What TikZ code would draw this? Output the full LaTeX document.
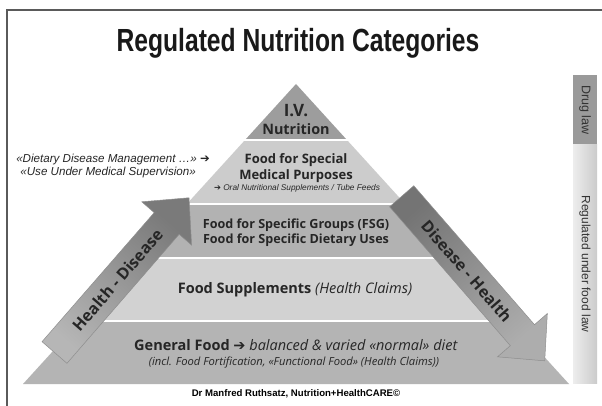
\documentclass[tikz,border=0pt]{standalone}
\usepackage{fontspec}
\setmainfont{Liberation Sans}
\newfontfamily\titlefont{Liberation Sans}[FakeStretch=0.77]
\newfontfamily\osans{Open Sans}
\newfontfamily\djv{DejaVu Sans}
\newcommand{\myfs}[2]{\fontsize{#1}{#2}\selectfont}
\definecolor{framec}{HTML}{5A5A5A}
\definecolor{ivc}{HTML}{9D9D9D}
\definecolor{fsmpc}{HTML}{CCCCCC}
\definecolor{fsgc}{HTML}{B2B2B2}
\definecolor{supc}{HTML}{D2D2D2}
\definecolor{genc}{HTML}{B4B4B4}
\definecolor{hdlight}{HTML}{B6B6B6}
\definecolor{hddark}{HTML}{7A7A7A}
\definecolor{dhdark}{HTML}{747474}
\definecolor{dhlight}{HTML}{ADADAD}
\definecolor{arrline}{HTML}{8E8E8E}
\definecolor{druglaw}{HTML}{9A9A9A}
\definecolor{foodla}{HTML}{EDEDED}
\definecolor{foodlb}{HTML}{CBCBCB}
\definecolor{textc}{HTML}{262626}
\begin{document}
\begin{tikzpicture}[x=1pt,y=-1pt,
  txt/.style={inner sep=0pt, text=textc},
  ptxt/.style={txt, anchor=base, font=\osans},
  arrtext/.style={inner sep=0pt, text=textc, font=\osans\bfseries\myfs{16}{16}},
  arrshape/.style={draw=arrline, line width=0.5pt}]
\useasboundingbox (0,0) rectangle (602,406);
\fill[white] (0,0) rectangle (602,406);
\draw[framec, line width=2pt] (6.5,407) -- (6.5,10) -- (603,10);

% title
\node[txt, anchor=base, text=black!90] (title) at (298,52) {\titlefont\bfseries\myfs{32}{32}Regulated Nutrition Categories};

% pyramid
\coordinate (apex) at (296,84);
\coordinate (bl) at (23,384);
\coordinate (br) at (569,384);
\begin{scope}
  \clip (apex) -- (bl) -- (br) -- cycle;
  \fill[ivc] (0,80) rectangle (602,139);
  \fill[fsmpc] (0,141) rectangle (602,203);
  \fill[fsgc] (0,205) rectangle (602,256.5);
  \fill[supc] (0,258.5) rectangle (602,320);
  \fill[genc] (0,322) rectangle (602,390);
\end{scope}

% pyramid texts
\node[ptxt] (iv) at (296,117) {\bfseries\myfs{17}{17}I.V.};
\node[ptxt] (ivn) at (296,135) {\bfseries\myfs{14.4}{14}Nutrition};
\node[ptxt] (fsmp1) at (296,164) {\bfseries\myfs{13}{13}Food for Special};
\node[ptxt] (fsmp2) at (296,180) {\bfseries\myfs{13}{13}Medical Purposes};
\node[txt, anchor=base] (fsmp3) at (297,190) {\myfs{8.3}{8.3}{\djv\bfseries ➔} \itshape Oral Nutritional Supplements / Tube Feeds};
\node[ptxt] (fsg1) at (296,228) {\bfseries\myfs{12.6}{13}Food for Specific Groups (FSG)};
\node[ptxt] (fsg2) at (296,243.3) {\bfseries\myfs{12.6}{13}Food for Specific Dietary Uses};
\node[ptxt] (sup) at (295,293.3) {\myfs{14.5}{15}\textbf{Food Supplements} \textit{(Health Claims)}};
\node[ptxt] (gen1) at (296,350) {\myfs{14.5}{15}\textbf{General Food {\djv ➔}} \textit{balanced \& varied «normal» diet}};
\node[ptxt] (gen2) at (294,365.7) {\myfs{11.2}{12}\itshape (incl. Food Fortification, «Functional Food» (Health Claims))};

% Health - Disease arrow
\begin{scope}[shift={(54.5,352.5)}, rotate=49]
  \shade[arrshape, bottom color=hdlight, top color=hddark, shading angle=-41]
    (0,-16.5) -- (171,-16.5) -- (171,-33) -- (205,0) -- (171,33) -- (171,16.5) -- (0,16.5) -- cycle;
  \node[arrtext, rotate=49] (hd) at (96,0) {Health - Disease};
\end{scope}

% Disease - Health arrow
\begin{scope}[shift={(401.7,196.3)}, rotate=-49]
  \shade[arrshape, top color=dhdark, bottom color=dhlight, shading angle=41]
    (0,-16) -- (184,-16) -- (184,-33) -- (218,0) -- (184,33) -- (184,16) -- (0,16) -- cycle;
  \node[arrtext, rotate=-49] (dh) at (99,0) {Disease - Health};
\end{scope}

% left notes
\node[txt, anchor=base east] (ddm) at (197,162.7) {\myfs{11.6}{12}\itshape «Dietary Disease Management …»};
\node[txt, anchor=base west] (ddmarr) at (200,162.7) {\myfs{11.6}{12}\djv\bfseries ➔};
\node[txt, anchor=base east] (ums) at (196,176) {\myfs{11.6}{12}\itshape «Use Under Medical Supervision»};

% side bar
\fill[druglaw] (573,75) rectangle (597,145);
\shade[left color=foodla, right color=foodlb] (573,145) rectangle (597,383);
\node[txt, rotate=-90, text=black!80] (drug) at (585,110) {\myfs{12.5}{13}Drug law};
\node[txt, rotate=-90, text=black!80] (food) at (585,264) {\myfs{12}{12}Regulated under food law};

% footer
\node[txt, anchor=base, text=black] (foot) at (296,396.7) {\myfs{9.6}{10}\bfseries Dr Manfred Ruthsatz, Nutrition+HealthCARE©};
\end{tikzpicture}
\end{document}
